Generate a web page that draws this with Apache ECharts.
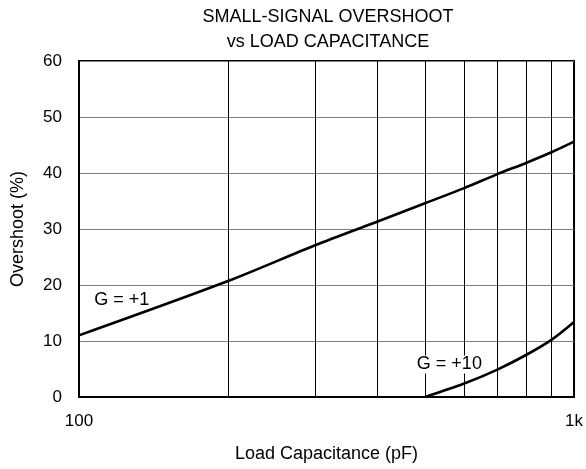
<!DOCTYPE html>
<html>
<head>
<meta charset="utf-8">
<script src="https://cdn.jsdelivr.net/npm/echarts@6/dist/echarts.min.js"></script>
<style>html,body{margin:0;padding:0;background:#fff}#c{width:586px;height:469px}</style>
</head>
<body>
<div id="c"></div>
<script>
const titleLines = ['SMALL-SIGNAL OVERSHOOT', 'vs LOAD CAPACITANCE'];
const xName = 'Load Capacitance (pF)';
const yName = 'Overshoot (%)';
const capG1 = [100, 200, 300, 400, 500, 600, 700, 800, 900, 1000];
const overshootG1 = [11.0, 20.7, 27.1, 31.3, 34.6, 37.3, 39.8, 41.8, 43.7, 45.6];
const capG10 = [500, 600, 700, 800, 900, 1000];
const overshootG10 = [0, 2.4, 4.9, 7.5, 10.2, 13.4];
const gridCaps = [200, 300, 400, 500, 600, 700, 800, 900];
const seriesLabels = ['G = +1', 'G = +10'];
const labelPosG1 = [122, 17.4];
const labelPosG10 = [560, 5.8];

const font = 'Liberation Sans, Arial, sans-serif';
const fs = 18;
const tfs = 17;
const chart = echarts.init(document.getElementById('c'), null, {renderer: 'canvas'});
chart.setOption({
  animation: false,
  backgroundColor: '#fff',
  title: {
    text: titleLines.join('\n'),
    left: 323,
    textAlign: 'center',
    top: 0,
    textStyle: {fontFamily: font, fontSize: fs, fontWeight: 'normal', color: '#000', lineHeight: 25}
  },
  grid: {left: 79, right: 11, top: 61, bottom: 72, show: true, borderColor: '#000', borderWidth: 2, backgroundColor: 'transparent'},
  xAxis: {
    type: 'log', logBase: 10, min: 100, max: 1000,
    name: xName, nameLocation: 'middle', nameGap: 48,
    nameTextStyle: {fontFamily: font, fontSize: fs, color: '#000'},
    axisLine: {show: true, lineStyle: {color: '#000', width: 2}},
    axisTick: {show: false},
    splitLine: {show: false},
    axisLabel: {fontFamily: font, fontSize: tfs, color: '#000', margin: 16,
      formatter: v => v >= 1000 ? (v / 1000) + 'k' : String(v)}
  },
  yAxis: {
    type: 'value', min: 0, max: 60, interval: 10,
    name: yName, nameLocation: 'middle', nameGap: 52,
    nameTextStyle: {fontFamily: font, fontSize: fs, color: '#000'},
    axisLine: {show: true, lineStyle: {color: '#000', width: 2}},
    axisTick: {show: false},
    splitLine: {show: true, lineStyle: {color: '#808080', width: 1.2}},
    axisLabel: {fontFamily: font, fontSize: tfs, color: '#000', margin: 17}
  },
  series: [
    {
      type: 'line', name: seriesLabels[0], smooth: 0.3, symbol: 'none',
      data: capG1.map((c, i) => [c, overshootG1[i]]),
      lineStyle: {color: '#000', width: 2.6},
      z: 5,
      markLine: {
        silent: true, symbol: 'none', animation: false,
        label: {show: false},
        lineStyle: {color: '#000', width: 1, type: 'solid'},
        data: gridCaps.map(c => ({xAxis: c}))
      },
      markPoint: {
        symbol: 'circle', symbolSize: 0, silent: true,
        label: {show: true, position: 'inside', formatter: seriesLabels[0], fontFamily: font, fontSize: fs, color: '#000'},
        data: [{coord: labelPosG1}]
      }
    },
    {
      type: 'line', name: seriesLabels[1], smooth: 0.3, symbol: 'none',
      data: capG10.map((c, i) => [c, overshootG10[i]]),
      lineStyle: {color: '#000', width: 2.6},
      z: 5,
      markPoint: {
        symbol: 'circle', symbolSize: 0, silent: true,
        label: {show: true, position: 'inside', formatter: seriesLabels[1], fontFamily: font, fontSize: fs, color: '#000', backgroundColor: '#fff', padding: [0, 1]},
        data: [{coord: labelPosG10}]
      }
    }
  ]
});
</script>
</body>
</html>
